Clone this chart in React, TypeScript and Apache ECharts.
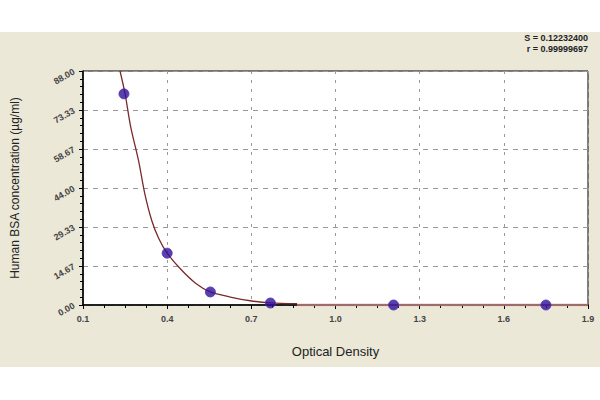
import React, { useEffect, useRef } from "react";
import * as echarts from "echarts";

const xTicks = [0.1, 0.4, 0.7, 1.0, 1.3, 1.6, 1.9];
const yTicks = [0.0, 14.67, 29.33, 44.0, 58.67, 73.33, 88.0];
const pointX = [0.246, 0.4, 0.554, 0.768, 1.207, 1.75];
const pointY = [79.4, 19.5, 4.9, 0.75, 0.0, 0.0];
const curveX = [0.232, 0.25, 0.27, 0.298, 0.32, 0.345, 0.37, 0.4, 0.446, 0.5, 0.554, 0.625, 0.696, 0.768, 0.863];
const curveY = [88.0, 79.4, 67.0, 54.3, 42.0, 31.8, 25.0, 19.5, 13.7, 8.3, 4.9, 3.0, 1.6, 0.8, 0.5];
const tailX = [0.863, 1.9];
const tailY = [0.0, 0.0];
const statLines = ["S = 0.12232400", "r = 0.99999697"];

export default function App() {
  const ref = useRef<HTMLDivElement>(null);
  useEffect(() => {
    document.body.style.margin = "0";
    const chart = echarts.init(ref.current!, null, { renderer: "svg" });
    chart.setOption({
      animation: false,
      grid: {
        left: 83,
        right: 12,
        top: 71,
        bottom: 95,
        show: true,
        backgroundColor: "#ffffff",
        borderColor: "#000",
        borderWidth: 1,
      },
      xAxis: {
        type: "value",
        min: xTicks[0],
        max: xTicks[xTicks.length - 1],
        interval: 0.3,
        name: "Optical Density",
        nameLocation: "middle",
        nameGap: 40,
        nameTextStyle: { fontFamily: "Arial", fontSize: 13, color: "#222" },
        axisLine: { lineStyle: { color: "#000", width: 1.5 } },
        axisTick: { show: true, length: 4, lineStyle: { color: "#000" } },
        minorTick: { show: true, splitNumber: 4, length: 3, lineStyle: { color: "#000" } },
        axisLabel: {
          fontFamily: "Arial",
          fontSize: 9,
          fontWeight: "bold",
          color: "#444",
          margin: 9,
          formatter: (v: number) => v.toFixed(1),
        },
        splitLine: { show: true, lineStyle: { color: "#999", type: [3, 6], width: 1 } },
      },
      yAxis: {
        type: "value",
        min: yTicks[0],
        max: yTicks[yTicks.length - 1],
        interval: 88 / 6,
        name: "Human BSA concentration (µg/ml)",
        nameLocation: "middle",
        nameGap: 62,
        nameTextStyle: { fontFamily: "Arial", fontSize: 12, color: "#222" },
        axisLine: { show: true, lineStyle: { color: "#000", width: 1.5 } },
        axisTick: { show: true, length: 4, lineStyle: { color: "#000" } },
        minorTick: { show: true, splitNumber: 5, length: 3, lineStyle: { color: "#000" } },
        axisLabel: {
          fontFamily: "Arial",
          fontSize: 9,
          fontWeight: "bold",
          color: "#444",
          rotate: 30,
          margin: 9,
          formatter: (v: number) => {
            const idx = Math.round(v / (88 / 6));
            return yTicks[idx] !== undefined ? yTicks[idx].toFixed(2) : v.toFixed(2);
          },
        },
        splitLine: { show: true, lineStyle: { color: "#999", type: [5, 5], width: 1 } },
      },
      series: [
        {
          type: "line",
          data: tailX.map((x, i) => [x, tailY[i]]),
          showSymbol: false,
          lineStyle: { color: "#f0a0a0", width: 3, opacity: 0.6 },
          z: 1,
        },
        {
          type: "line",
          data: curveX.map((x, i) => [x, curveY[i]]),
          showSymbol: false,
          smooth: 0.3,
          lineStyle: { color: "#7a2a2a", width: 1.3 },
          z: 2,
        },
        {
          type: "scatter",
          data: pointX.map((x, i) => [x, pointY[i]]),
          symbol: "circle",
          symbolSize: 10,
          itemStyle: { color: "#30109a", borderColor: "#4a30b0", borderWidth: 1 },
          z: 3,
        },
      ],
      graphic: statLines.map((t, i) => ({
        type: "text",
        right: 12,
        top: 33 + i * 11,
        style: {
          text: t,
          fontFamily: "Arial",
          fontSize: 9,
          fontWeight: "bold",
          fill: "#222",
          textAlign: "right",
        },
      })),
    });
    return () => chart.dispose();
  }, []);
  return (
    <div style={{ position: "relative", width: 600, height: 400, background: "#fff" }}>
      <div style={{ position: "absolute", left: 0, top: 32, width: 600, height: 335, background: "#ebe8d8" }} />
      <div ref={ref} style={{ position: "absolute", left: 0, top: 0, width: 600, height: 400 }} />
    </div>
  );
}
